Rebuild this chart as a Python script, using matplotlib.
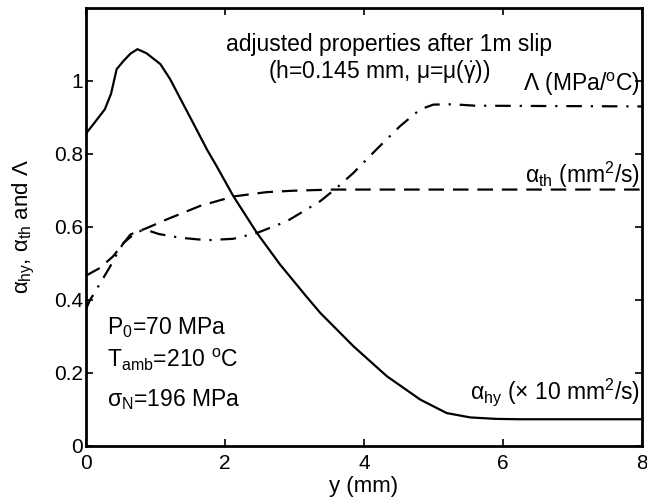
import numpy as np
import matplotlib
matplotlib.use("Agg")
import matplotlib.pyplot as plt

plt.rcParams['font.family'] = ['Liberation Sans', 'DejaVu Sans']
plt.rcParams['mathtext.fontset'] = 'custom'
plt.rcParams['mathtext.rm'] = 'Liberation Sans'
plt.rcParams['mathtext.it'] = 'Liberation Sans'
plt.rcParams['mathtext.sf'] = 'Liberation Sans'

# alpha_hy (x10 mm^2/s) - solid
y_hy = [0.0, 0.1, 0.27, 0.36, 0.44, 0.54, 0.64, 0.74, 0.87, 1.07, 1.21, 1.35, 1.59, 1.74, 1.88, 2.12, 2.46, 2.79, 3.17, 3.37, 3.85, 4.33, 4.81, 5.19, 5.53, 5.9, 6.24, 8.0]
a_hy = [0.856, 0.88, 0.922, 0.965, 1.032, 1.055, 1.075, 1.087, 1.076, 1.046, 1.005, 0.954, 0.867, 0.812, 0.766, 0.684, 0.583, 0.497, 0.409, 0.364, 0.272, 0.190, 0.126, 0.089, 0.077, 0.073, 0.072, 0.072]

# alpha_th (mm^2/s) - dashed
y_th = [0.0, 0.2, 0.39, 0.64, 0.87, 1.16, 1.64, 2.12, 2.6, 3.0, 3.56, 4.0, 8.0]
a_th = [0.466, 0.487, 0.519, 0.579, 0.596, 0.62, 0.657, 0.683, 0.695, 0.699, 0.702, 0.702, 0.702]

# Lambda (MPa/oC) - dash-dot
y_L = [0.0, 0.06, 0.15, 0.25, 0.35, 0.44, 0.54, 0.66, 0.8, 0.92, 1.05, 1.35, 1.74, 2.12, 2.46, 2.89, 3.37, 3.61, 3.85, 4.18, 4.52, 4.81, 5.0, 5.28, 5.6, 8.0]
a_L = [0.375, 0.40, 0.428, 0.46, 0.492, 0.524, 0.556, 0.575, 0.59, 0.588, 0.58, 0.570, 0.563, 0.567, 0.583, 0.615, 0.670, 0.707, 0.748, 0.812, 0.876, 0.922, 0.935, 0.936, 0.932, 0.93]

xticks = [0, 2, 4, 6, 8]
yticks = [0, 0.2, 0.4, 0.6, 0.8, 1]
ytick_labels = ['0', '0.2', '0.4', '0.6', '0.8', '1']

fig = plt.figure(figsize=(6.47, 5.0), dpi=100)
ax = fig.add_axes([0.133, 0.109, 0.859, 0.875])

lw = 1.6
ax.plot(y_hy, a_hy, color='black', lw=lw, linestyle='-')
ax.plot(y_th, a_th, color='black', lw=lw, linestyle=(0, (7, 4)))
ax.plot(y_L, a_L, color='black', lw=lw, linestyle=(0, (7, 4, 1, 4)))

ax.set_xlim(0, 8)
ax.set_ylim(0, 1.2)
ax.set_xticks(xticks)
ax.set_yticks(yticks)
ax.set_yticklabels(ytick_labels)
ax.tick_params(direction='in', top=True, right=True, labelsize=15, length=5, width=1.2, pad=6)
ax.tick_params(axis='y', pad=2)
for s in ax.spines.values():
    s.set_linewidth(2.0)

ax.set_xlabel('y (mm)', fontsize=16, labelpad=2)
ax.set_ylabel(r'$\alpha_{\mathrm{hy}}$, $\alpha_{\mathrm{th}}$ and $\Lambda$', fontsize=16, labelpad=12)

fs = 16.5
ax.text(2.01, 1.10, 'adjusted properties after 1m slip', fontsize=fs, va='center', ha='left')
ax.text(2.62, 1.027, r'(h=0.145 mm, $\mu$=$\mu$($\dot{\gamma}$))', fontsize=fs, va='center', ha='left')
ax.text(7.98, 0.99, r'$\Lambda$ (MPa/$^{\mathrm{o}}$C)', fontsize=fs, va='center', ha='right')
ax.text(7.98, 0.742, r'$\alpha_{\mathrm{th}}$ (mm$^{2}$/s)', fontsize=fs, va='center', ha='right')
ax.text(7.98, 0.147, r'$\alpha_{\mathrm{hy}}$ ($\times$ 10 mm$^{2}$/s)', fontsize=fs, va='center', ha='right')

ax.text(0.3, 0.323, r'P$_{0}$=70 MPa', fontsize=fs, va='center', ha='left')
ax.text(0.3, 0.235, r'T$_{\mathrm{amb}}$=210 $^{\mathrm{o}}$C', fontsize=fs, va='center', ha='left')
ax.text(0.3, 0.126, r'$\sigma_{\mathrm{N}}$=196 MPa', fontsize=fs, va='center', ha='left')

fig.savefig('out.png', dpi=100)
